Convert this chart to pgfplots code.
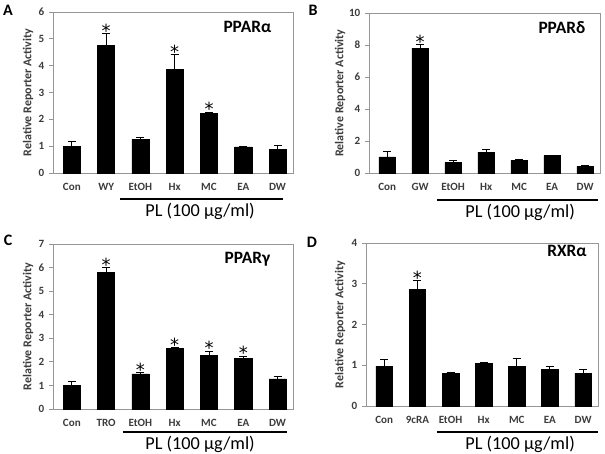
\documentclass[border=0pt]{standalone}
\usepackage{fontspec}
\setmainfont{Carlito}
\newfontfamily\starfont{DejaVu Sans}
\usepackage{pgfplots}
\usepackage{pgfplotstable}
\pgfplotsset{compat=1.18}

% Relative reporter activity: mean and upper error for each treatment
\pgfplotstableread{
x y e
0 0.99 0.17
1 4.76 0.43
2 1.26 0.08
3 3.86 0.56
4 2.23 0.04
5 0.97 0.02
6 0.89 0.13
}\ppara
\pgfplotstableread{
x y e
0 1.00 0.36
1 7.81 0.21
2 0.67 0.10
3 1.31 0.17
4 0.79 0.04
5 1.08 0.04
6 0.42 0.06
}\ppard
\pgfplotstableread{
x y e
0 0.99 0.16
1 5.80 0.21
2 1.49 0.04
3 2.56 0.03
4 2.27 0.19
5 2.14 0.10
6 1.28 0.10
}\pparg
\pgfplotstableread{
x y e
0 0.98 0.15
1 2.87 0.20
2 0.80 0.02
3 1.05 0.02
4 0.98 0.18
5 0.90 0.07
6 0.80 0.10
}\rxra

\definecolor{framegray}{RGB}{150,150,150}
\definecolor{ticktext}{RGB}{60,60,60}

\pgfplotsset{
  panel/.style={
    scale only axis,
    anchor=south west,
    xmin=-0.55, xmax=6.45, ymin=0,
    xtick={0,...,6},
    axis line style={framegray, line width=0.6pt},
    major x tick style={draw=none},
    major y tick style={framegray, line width=0.6pt},
    tick align=outside,
    ytick pos=left,
    xtick pos=bottom,
    major tick length=3pt,
    tick label style={font=\bfseries\fontsize{8.3}{10}\selectfont, text=ticktext},
    xticklabel style={yshift=-1.5pt},
    /pgf/number format/assume math mode=true,
    clip=false,
  },
  ylab/.style={
    ylabel={Relative Reporter Activity},
    every axis y label/.style={at={([xshift=-#1]rel axis cs:0,0.5)},
      rotate=90, anchor=center,
      font=\bfseries\fontsize{9}{10}\selectfont, text=ticktext},
  },
  bars/.style={
    ybar, bar width=0.5, fill=black, draw=black, mark=none,
    error bars/.cd, y dir=plus, y explicit,
    error bar style={black, line width=0.7pt},
    error mark options={rotate=90, black, mark size=3pt, line width=0.7pt},
  },
  stars/.style={
    draw=none, mark=none,
    nodes near coords={*},
    every node near coord/.append style={anchor=base, yshift=-2.8pt,
      inner sep=0pt, font=\starfont\fontsize{13.5}{14}\selectfont},
  },
}

\newcommand{\plgroup}[5]{%
  \draw[line width=1.6pt] ([yshift=-#3]axis cs:#1,0) -- ([yshift=-#3]axis cs:#2,0);
  \node[anchor=base, inner sep=0pt, font=\fontsize{13.7}{15}\selectfont]
    at ([yshift=-#5]axis cs:#4,0) {PL (100 μg/ml)};
}

\begin{document}
\begin{tikzpicture}
\useasboundingbox (0,0) rectangle (453.75pt,339.75pt);

% Panel A: PPAR alpha
\begin{axis}[panel, ylab=18.75pt,
  at={(39.75pt,210pt)}, width=180pt, height=120.75pt,
  ymax=6, ytick={0,...,6},
  xticklabels={Con,WY,EtOH,Hx,MC,EA,DW}]
\addplot[bars] table[x=x, y=y, y error=e] {\ppara};
\addplot[stars] coordinates {(1,5.19) (3,4.42) (4,2.27)};
\node[font=\bfseries\fontsize{13}{15}\selectfont] at (rel axis cs:0.81,0.905) {PPARα};
\plgroup{1.4}{6.15}{19.5pt}{3.74}{33pt}
\end{axis}

% Panel B: PPAR delta
\begin{axis}[panel, ylab=21.75pt,
  at={(276.75pt,210pt)}, width=173.25pt, height=120pt,
  ymax=10, ytick={0,2,...,10},
  xticklabels={Con,GW,EtOH,Hx,MC,EA,DW}]
\addplot[bars] table[x=x, y=y, y error=e] {\ppard};
\addplot[stars] coordinates {(1,8.02)};
\node[font=\bfseries\fontsize{13}{15}\selectfont] at (rel axis cs:0.835,0.91) {PPARδ};
\plgroup{1.51}{6.39}{20.25pt}{4.03}{33.75pt}
\end{axis}

% Panel C: PPAR gamma
\begin{axis}[panel, ylab=18.75pt,
  at={(39.75pt,33pt)}, width=180pt, height=123.75pt,
  ymax=7, ytick={0,...,7},
  xticklabels={Con,TRO,EtOH,Hx,MC,EA,DW}]
\addplot[bars] table[x=x, y=y, y error=e] {\pparg};
\addplot[stars] coordinates {(1,6.01) (2,1.53) (3,2.59) (4,2.46) (5,2.24)};
\node[font=\bfseries\fontsize{13}{15}\selectfont] at (rel axis cs:0.81,0.91) {PPARγ};
\plgroup{1.49}{6.27}{17.25pt}{3.74}{30pt}
\end{axis}

% Panel D: RXR alpha
\begin{axis}[panel, ylab=19.5pt,
  at={(274.5pt,35.25pt)}, width=174pt, height=122.25pt,
  ymax=4, ytick={0,...,4},
  xticklabels={Con,9cRA,EtOH,Hx,MC,EA,DW}]
\addplot[bars] table[x=x, y=y, y error=e] {\rxra};
\addplot[stars] coordinates {(1,3.07)};
\node[font=\bfseries\fontsize{13}{15}\selectfont] at (rel axis cs:0.866,0.95) {RXRα};
\plgroup{1.59}{6.45}{19.5pt}{4.1}{32.25pt}
\end{axis}

% Panel letters
\node[font=\bfseries\fontsize{12}{14}\selectfont] at (6pt,332pt) {A};
\node[font=\bfseries\fontsize{12}{14}\selectfont] at (234.75pt,332pt) {B};
\node[font=\bfseries\fontsize{12}{14}\selectfont] at (6pt,159.75pt) {C};
\node[font=\bfseries\fontsize{12}{14}\selectfont] at (234pt,158.25pt) {D};
\end{tikzpicture}
\end{document}
